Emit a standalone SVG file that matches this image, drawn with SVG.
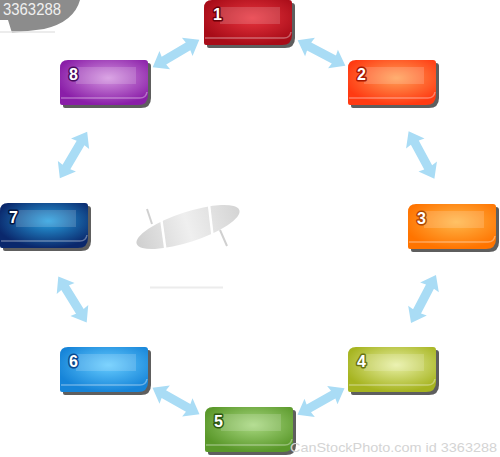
<svg xmlns="http://www.w3.org/2000/svg" width="500" height="457" viewBox="0 0 500 457">
<defs>
<style>
.shadow{fill:#5e5e5e}
.ph{fill:#ffffff;fill-opacity:0.16}
.bevel{fill:none;stroke:#ffffff;stroke-opacity:0.35;stroke-width:1.5}
.num{font-family:"Liberation Sans","DejaVu Sans",sans-serif;font-weight:bold;font-size:16px;fill:#ffffff;stroke-width:3;paint-order:stroke;stroke-linejoin:round}
.arrow{fill:#a9dcf5}
.wm{font-family:"Liberation Sans",Arial,sans-serif;fill:#d4d4d4}
</style>
<path id="box" d="M8,0 H85 Q88,0 88,3 V35 Q88,45 78,45 H2 Q0,45 0,43 V8 Q0,0 8,0 Z"/>
<path id="bev" d="M1,38 H80 Q86,38 87,32"/>
<path id="arr" d="M-27,0 L-13,-10.5 L-14,-4.5 L14,-4.5 L13,-10.5 L27,0 L13,10.5 L14,4.5 L-14,4.5 L-13,10.5 Z"/>
<radialGradient id="g1" cx="0.55" cy="0.4" r="0.6"><stop offset="0" stop-color="#e8343e"/><stop offset="1" stop-color="#a80c18"/></radialGradient>
<radialGradient id="g2" cx="0.55" cy="0.4" r="0.6"><stop offset="0" stop-color="#ffa056"/><stop offset="1" stop-color="#ff3a12"/></radialGradient>
<radialGradient id="g3" cx="0.55" cy="0.4" r="0.6"><stop offset="0" stop-color="#ffb648"/><stop offset="1" stop-color="#ff7400"/></radialGradient>
<radialGradient id="g4" cx="0.55" cy="0.4" r="0.6"><stop offset="0" stop-color="#e8f0a4"/><stop offset="1" stop-color="#a6b420"/></radialGradient>
<radialGradient id="g5" cx="0.55" cy="0.4" r="0.6"><stop offset="0" stop-color="#a8d880"/><stop offset="1" stop-color="#5a982a"/></radialGradient>
<radialGradient id="g6" cx="0.55" cy="0.4" r="0.6"><stop offset="0" stop-color="#66ccff"/><stop offset="1" stop-color="#1684d8"/></radialGradient>
<radialGradient id="g7" cx="0.55" cy="0.4" r="0.6"><stop offset="0" stop-color="#28a0e0"/><stop offset="1" stop-color="#0a286c"/></radialGradient>
<radialGradient id="g8" cx="0.55" cy="0.4" r="0.6"><stop offset="0" stop-color="#d494e0"/><stop offset="1" stop-color="#8a1ea8"/></radialGradient>
<linearGradient id="ell" x1="0" y1="0" x2="1" y2="0"><stop offset="0" stop-color="#cfcfcf"/><stop offset="0.5" stop-color="#efefef"/><stop offset="1" stop-color="#d4d4d4"/></linearGradient>
</defs>
<rect width="500" height="457" fill="#ffffff"/>

<!-- watermark top-left -->
<path d="M0,0 H80 Q74,22 44,29 L12,33 L8,20 L0,20 Z" fill="#8c8c8c"/>
<line x1="0" y1="32" x2="55" y2="32" stroke="#e6e6e6" stroke-width="1.5"/>
<text class="wm" x="3" y="15" font-size="17" textLength="58" lengthAdjust="spacingAndGlyphs" style="fill:#f0f0f0">3363288</text>

<!-- center graphic -->
<g id="center">
<ellipse cx="188" cy="227" rx="54" ry="15" transform="rotate(-18 188 227)" fill="url(#ell)"/>
<line x1="160" y1="210" x2="166" y2="254" stroke="#ffffff" stroke-width="2.5"/>
<line x1="208" y1="196" x2="213" y2="240" stroke="#ffffff" stroke-width="2.5"/>
<line x1="147" y1="209" x2="152" y2="224" stroke="#d0d0d0" stroke-width="2"/>
<line x1="220" y1="230" x2="227" y2="246" stroke="#d0d0d0" stroke-width="2"/>
<line x1="150" y1="287.5" x2="223" y2="287.5" stroke="#ececec" stroke-width="2"/>
</g>

<g id="connectors">
<use href="#arr" class="arrow" transform="translate(176,53.5) rotate(-30.4)"/>
<use href="#arr" class="arrow" transform="translate(321.5,53) rotate(27.9)"/>
<use href="#arr" class="arrow" transform="translate(421.5,155) rotate(61.5)"/>
<use href="#arr" class="arrow" transform="translate(423.5,299) rotate(117.5)"/>
<use href="#arr" class="arrow" transform="translate(321,401.5) rotate(150.6)"/>
<use href="#arr" class="arrow" transform="translate(176,401) rotate(29.5)"/>
<use href="#arr" class="arrow" transform="translate(72.5,299.5) rotate(58.3)"/>
<use href="#arr" class="arrow" transform="translate(73.5,155) rotate(120.4)"/>
</g>

<g id="node1" transform="translate(204,0)">
<use href="#box" class="shadow" transform="translate(3,3)"/>
<use href="#box" fill="url(#g1)"/>
<rect class="ph" x="16" y="7" width="60" height="17"/>
<use href="#bev" class="bevel"/>
<text class="num" x="9" y="20" stroke="#6a0008">1</text>
</g>
<g id="node2" transform="translate(348,60)">
<use href="#box" class="shadow" transform="translate(3,3)"/>
<use href="#box" fill="url(#g2)"/>
<rect class="ph" x="16" y="7" width="60" height="17"/>
<use href="#bev" class="bevel"/>
<text class="num" x="9" y="20" stroke="#a81800">2</text>
</g>
<g id="node3" transform="translate(408,204)">
<use href="#box" class="shadow" transform="translate(3,3)"/>
<use href="#box" fill="url(#g3)"/>
<rect class="ph" x="16" y="7" width="60" height="17"/>
<use href="#bev" class="bevel"/>
<text class="num" x="9" y="20" stroke="#b04800">3</text>
</g>
<g id="node4" transform="translate(348,347)">
<use href="#box" class="shadow" transform="translate(3,3)"/>
<use href="#box" fill="url(#g4)"/>
<rect class="ph" x="16" y="7" width="60" height="17"/>
<use href="#bev" class="bevel"/>
<text class="num" x="9" y="20" stroke="#6a7410">4</text>
</g>
<g id="node5" transform="translate(205,407)">
<use href="#box" class="shadow" transform="translate(3,3)"/>
<use href="#box" fill="url(#g5)"/>
<rect class="ph" x="16" y="7" width="60" height="17"/>
<use href="#bev" class="bevel"/>
<text class="num" x="9" y="20" stroke="#2e5a10">5</text>
</g>
<g id="node6" transform="translate(60,347)">
<use href="#box" class="shadow" transform="translate(3,3)"/>
<use href="#box" fill="url(#g6)"/>
<rect class="ph" x="16" y="7" width="60" height="17"/>
<use href="#bev" class="bevel"/>
<text class="num" x="9" y="20" stroke="#0a4a90">6</text>
</g>
<g id="node7" transform="translate(0,203)">
<use href="#box" class="shadow" transform="translate(3,3)"/>
<use href="#box" fill="url(#g7)"/>
<rect class="ph" x="16" y="7" width="60" height="17"/>
<use href="#bev" class="bevel"/>
<text class="num" x="9" y="20" stroke="#051540">7</text>
</g>
<g id="node8" transform="translate(60,60)">
<use href="#box" class="shadow" transform="translate(3,3)"/>
<use href="#box" fill="url(#g8)"/>
<rect class="ph" x="16" y="7" width="60" height="17"/>
<use href="#bev" class="bevel"/>
<text class="num" x="9" y="20" stroke="#4a0a60">8</text>
</g>

<text class="wm" x="290" y="452" font-size="13" textLength="207" lengthAdjust="spacingAndGlyphs">CanStockPhoto.com id 3363288</text>
</svg>
